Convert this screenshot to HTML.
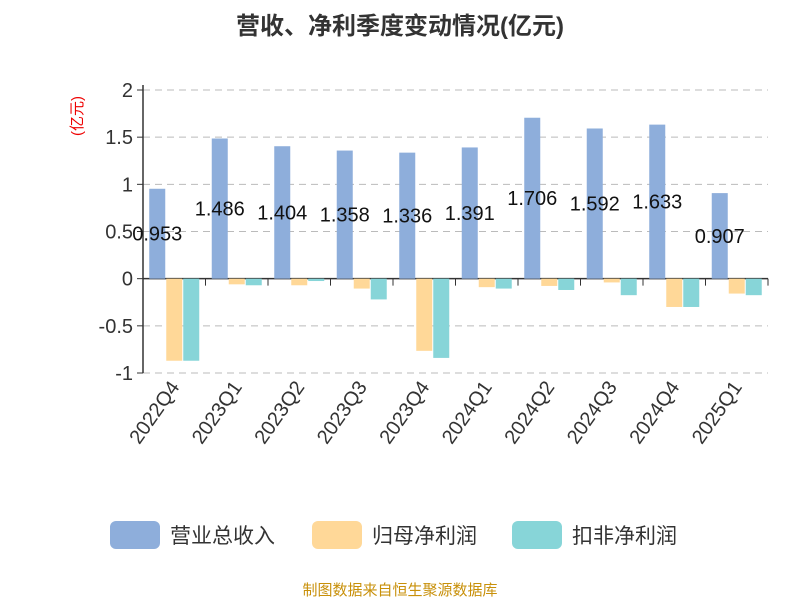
<!DOCTYPE html>
<html><head><meta charset="utf-8"><style>
body{margin:0;background:#fff;width:800px;height:600px;overflow:hidden;font-family:"Liberation Sans","Noto Sans CJK SC",sans-serif}
</style></head><body>
<svg id="c" width="800" height="600" xmlns="http://www.w3.org/2000/svg" font-family="Liberation Sans, Noto Sans CJK SC, sans-serif">
<text x="400" y="34" text-anchor="middle" font-size="24" font-weight="bold" fill="#333">营收、净利季度变动情况(亿元)</text>
<text transform="translate(82,116) rotate(-90)" text-anchor="middle" font-size="15" fill="#e00">(亿元)</text>
<g id="grid"></g><g id="bars"></g><g id="labels"></g>
<g>
<rect x="110" y="521" width="50" height="28" rx="6" fill="#8eaedb"/>
<text x="170" y="543" font-size="21" fill="#333">营业总收入</text>
<rect x="312" y="521" width="50" height="28" rx="6" fill="#ffd898"/>
<text x="372" y="543" font-size="21" fill="#333">归母净利润</text>
<rect x="512" y="521" width="50" height="28" rx="6" fill="#87d5d8"/>
<text x="572" y="543" font-size="21" fill="#333">扣非净利润</text>
</g>
<text x="400" y="595" text-anchor="middle" font-size="15" fill="#c8900a">制图数据来自恒生聚源数据库</text>
</svg>
<script>
const categories=["2022Q4","2023Q1","2023Q2","2023Q3","2023Q4","2024Q1","2024Q2","2024Q3","2024Q4","2025Q1"];
const revenue=[0.953,1.486,1.404,1.358,1.336,1.391,1.706,1.592,1.633,0.907];
const netProfit=[-0.87,-0.06,-0.07,-0.105,-0.765,-0.09,-0.077,-0.04,-0.3,-0.158];
const deductedProfit=[-0.87,-0.07,-0.025,-0.22,-0.84,-0.105,-0.12,-0.175,-0.3,-0.175];
const yTicks=[2,1.5,1,0.5,0,-0.5,-1];
const yTickLabels=["2","1.5","1","0.5","0","-0.5","-1"];
const NS="http://www.w3.org/2000/svg";
const X0=143,X1=768,Y2=90,Ym1=373;
function y(v){return Y2+(2-v)*(Ym1-Y2)/3;}
function cx(i){return X0+(i+0.5)*(X1-X0)/categories.length;}
function mk(t,a,p){const e=document.createElementNS(NS,t);for(const k in a)e.setAttribute(k,a[k]);p.appendChild(e);return e;}
const grid=document.getElementById('grid'),bars=document.getElementById('bars'),labels=document.getElementById('labels');
yTicks.forEach((v,i)=>{
 if(v!==0){const l=mk('line',{x1:X0,x2:X1,y1:y(v),y2:y(v),stroke:'#bbb','stroke-dasharray':'7,5'},grid);
 
 }
 const tk=mk('line',{x1:X0-6,x2:X0,y1:y(v),y2:y(v),stroke:'#333'},grid);
 
 
 const t=mk('text',{x:X0-10,y:y(v)+7,'text-anchor':'end','font-size':20,fill:'#333'},grid);
 t.textContent=yTickLabels[i];
 
 
});
const ya=mk('line',{x1:X0,x2:X0,y1:Y2-5,y2:Ym1,stroke:'#333','stroke-width':1.5},grid);


const series=[[revenue,'#8eaedb','revenue'],[netProfit,'#ffd898','net-profit'],[deductedProfit,'#87d5d8','deducted-profit']];
const bw=16,gap=1;
categories.forEach((c,i)=>{
 series.forEach((s,j)=>{
  const v=s[0][i];const x=cx(i)-(3*bw+2*gap)/2+j*(bw+gap);
  const r=mk('rect',{x:x,y:Math.min(y(v),y(0)),width:bw,height:Math.abs(y(v)-y(0)),fill:s[1]},bars);
  
  
 });
 const t=mk('text',{x:cx(i)-(3*bw+2*gap)/2+bw/2,y:(y(revenue[i])+y(0))/2+7,'text-anchor':'middle','font-size':20,fill:'#111'},labels);
 t.textContent=revenue[i].toFixed(3).replace(/0+$/,'');
 
 
 const tk=mk('line',{x1:X0+(i+1)*(X1-X0)/categories.length,x2:X0+(i+1)*(X1-X0)/categories.length,y1:y(0),y2:y(0)+7,stroke:'#333'},grid);
 
 
 const xl=mk('text',{transform:'translate('+(cx(i)+6)+','+(y(-1)+14)+') rotate(-55)','text-anchor':'end','font-size':20,fill:'#333'},labels);
 xl.textContent=c;
 
 
});
const xa=mk('line',{x1:X0,x2:X1,y1:y(0),y2:y(0),stroke:'#333','stroke-width':1.5},grid);


</script>
</body></html>
